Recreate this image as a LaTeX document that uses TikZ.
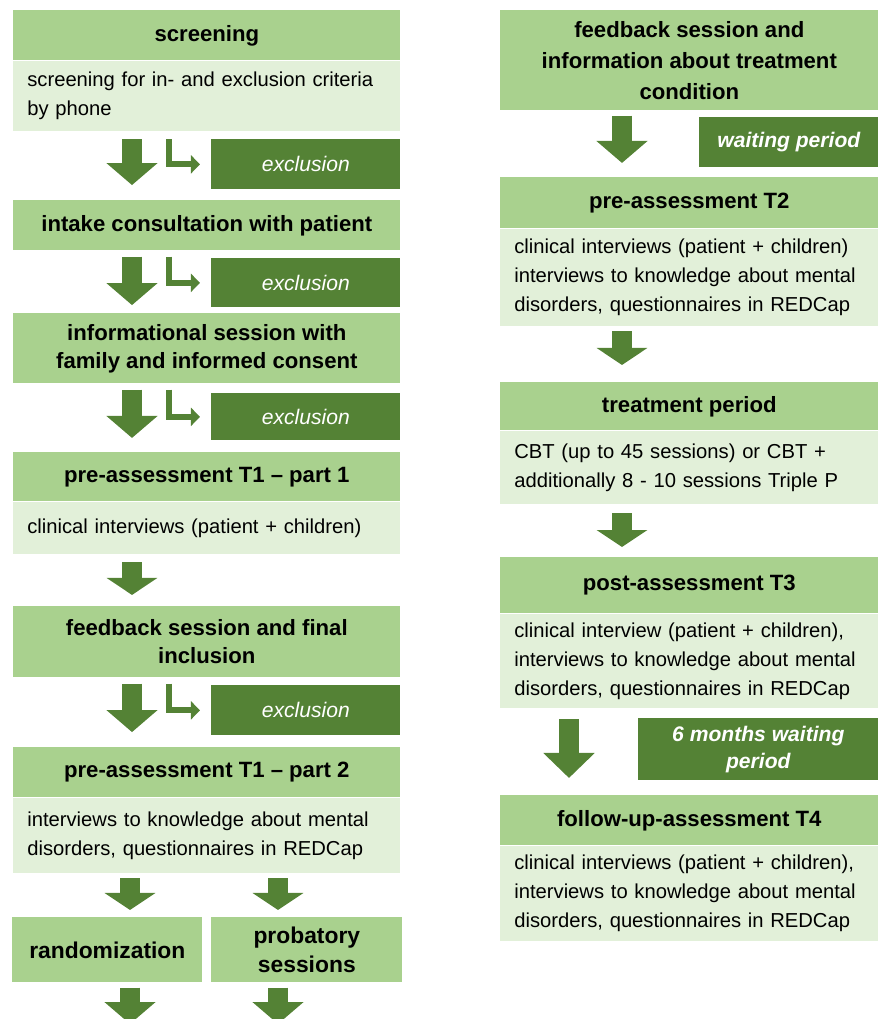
\documentclass[tikz,border=0pt]{standalone}
\usepackage{fontspec}
\setmainfont{Liberation Sans}
\usepackage{xcolor}
\usepackage{tikz}
\usetikzlibrary{arrows.meta,positioning}
\definecolor{kopfgruen}{HTML}{A9D18E}
\definecolor{blassgruen}{HTML}{E2F0D9}
\definecolor{dunkelgruen}{HTML}{548235}
\tikzset{
    kopf/.style={
        rectangle,
        fill=kopfgruen,
        anchor=north west,
        align=center,
        inner sep=2pt,
        font=\fontsize{12.6}{16}\selectfont\bfseries
    },
    links/.style={minimum width=7.74cm},
    rechts/.style={minimum width=7.56cm},
    inhalt/.style={
        rectangle,
        fill=blassgruen,
        align=left,
        text width=#1,
        inner xsep=0.28cm,
        inner ysep=2pt,
        font=\fontsize{11.5}{16.5}\selectfont
    },
    aus/.style={
        rectangle,
        fill=dunkelgruen,
        text=white,
        anchor=north west,
        align=center,
        inner sep=2pt,
        font=\fontsize{12}{15}\selectfont\itshape
    },
    warten/.style={aus, font=\fontsize{12}{15.4}\selectfont\bfseries\itshape},
    pfeil/.style={line width=0.4cm, draw=dunkelgruen, -{Triangle[width=1cm, length=#1]}},
    pfeil/.default=0.44cm,
    abzweig/.style={line width=0.12cm, draw=dunkelgruen, -{Triangle[width=0.36cm, length=0.18cm]}}
}

\begin{document}
\begin{tikzpicture}[x=0.02cm, y=-0.02cm]
    \clip (0,0) rectangle (878,1019);

    \coordinate (pL) at (132,0);
    \coordinate (kn) at (169,0);
    \coordinate (pA) at (130,0);
    \coordinate (pB) at (278,0);
    \coordinate (pR) at (622,0);
    \coordinate (pW) at (569,0);

    \node[kopf, links, minimum height=1cm] (scrK) at (13,10) {screening};
    \node[inhalt=7.18cm, minimum height=1.4cm, below=0pt of scrK] (scrB) {screening for in- and exclusion criteria\\by phone};
    \node[aus, minimum width=3.78cm, minimum height=1cm] (ex1) at (211,139) {exclusion};
    \node[kopf, links, minimum height=1cm] (intK) at (13,200) {intake consultation with patient};
    \node[aus, minimum width=3.78cm, minimum height=0.98cm] (ex2) at (211,258) {exclusion};
    \node[kopf, links, minimum height=1.4cm] (infK) at (13,313) {informational session with\\family and informed consent};
    \node[aus, minimum width=3.78cm, minimum height=0.94cm] (ex3) at (211,393) {exclusion};
    \node[kopf, links, minimum height=0.98cm] (t1aK) at (13,452) {pre-assessment T1 – part 1};
    \node[inhalt=7.18cm, minimum height=1.04cm, below=0pt of t1aK] (t1aB) {clinical interviews (patient + children)};
    \node[kopf, links, minimum height=1.42cm] (fbK) at (13,606) {feedback session and final\\inclusion};
    \node[aus, minimum width=3.78cm, minimum height=1cm] (ex4) at (211,685) {exclusion};
    \node[kopf, links, minimum height=1cm] (t1bK) at (13,747) {pre-assessment T1 – part 2};
    \node[inhalt=7.18cm, minimum height=1.5cm, below=0pt of t1bK] (t1bB) {interviews to knowledge about mental\\disorders, questionnaires in REDCap};
    \node[kopf, minimum width=3.8cm, minimum height=1.3cm, font=\fontsize{13}{16.5}\selectfont\bfseries] (rand) at (12,917) {randomization};
    \node[kopf, minimum width=3.82cm, minimum height=1.3cm, font=\fontsize{13}{16.5}\selectfont\bfseries] (prob) at (211,917) {probatory\\sessions};

    \node[kopf, rechts, minimum height=2cm, font=\fontsize{12.6}{17.6}\selectfont\bfseries] (fb2K) at (500,10) {feedback session and\\information about treatment\\condition};
    \node[warten, minimum width=3.58cm, minimum height=1cm] (wart) at (699,117) {waiting period};
    \node[kopf, rechts, minimum height=1.02cm] (t2K) at (500,177) {pre-assessment T2};
    \node[inhalt=7cm, minimum height=1.94cm, below=0pt of t2K] (t2B) {clinical interviews (patient + children)\\interviews to knowledge about mental\\disorders, questionnaires in REDCap};
    \node[kopf, rechts, minimum height=0.96cm] (trK) at (500,382) {treatment period};
    \node[inhalt=7cm, minimum height=1.46cm, below=0pt of trK] (trB) {CBT (up to 45 sessions) or CBT +\\additionally 8 - 10 sessions Triple P};
    \node[kopf, rechts, minimum height=1.12cm] (t3K) at (500,557) {post-assessment T3};
    \node[inhalt=7cm, minimum height=1.88cm, below=0pt of t3K] (t3B) {clinical interview (patient + children),\\interviews to knowledge about mental\\disorders, questionnaires in REDCap};
    \node[warten, minimum width=4.8cm, minimum height=1.24cm] (wart6) at (638,718) {6 months waiting\\period};
    \node[kopf, rechts, minimum height=1cm] (t4K) at (500,795) {follow-up-assessment T4};
    \node[inhalt=7cm, minimum height=1.9cm, below=0pt of t4K] (t4B) {clinical interviews (patient + children),\\interviews to knowledge about mental\\disorders, questionnaires in REDCap};

    \coordinate (endeA) at (130,1024);
    \coordinate (endeB) at (278,1024);

    \draw[pfeil, shorten <=4.5pt, shorten >=8.5pt] (scrB.south -| pL) -- (intK.north -| pL);
    \draw[pfeil, shorten <=3.4pt, shorten >=4.5pt] (intK.south -| pL) -- (infK.north -| pL);
    \draw[pfeil, shorten <=3.4pt, shorten >=8pt] (infK.south -| pL) -- (t1aK.north -| pL);
    \draw[pfeil=0.34cm, shorten <=4.5pt, shorten >=6.3pt] (t1aB.south -| pL) -- (fbK.north -| pL);
    \draw[pfeil, shorten <=3.4pt, shorten >=8.5pt] (fbK.south -| pL) -- (t1bK.north -| pL);
    \draw[pfeil=0.34cm, shorten <=2.8pt, shorten >=4pt] (t1bB.south -| pA) -- (rand.north -| pA);
    \draw[pfeil=0.34cm, shorten <=2.8pt, shorten >=4pt] (t1bB.south -| pB) -- (prob.north -| pB);
    \draw[pfeil, shorten <=2.8pt] (rand.south -| pA) -- (endeA);
    \draw[pfeil, shorten <=2.8pt] (prob.south -| pB) -- (endeB);

    \draw[abzweig, shorten <=4.5pt, shorten >=6.3pt] (scrB.south -| kn) |- (ex1.west);
    \draw[abzweig, shorten <=3.4pt, shorten >=6.3pt] (intK.south -| kn) |- (ex2.west);
    \draw[abzweig, shorten <=3.4pt, shorten >=6.3pt] (infK.south -| kn) |- (ex3.west);
    \draw[abzweig, shorten <=3.4pt, shorten >=6.3pt] (fbK.south -| kn) |- (ex4.west);

    \draw[pfeil, shorten <=2.8pt, shorten >=8pt] (fb2K.south -| pR) -- (t2K.north -| pR);
    \draw[pfeil=0.34cm, shorten <=2.8pt, shorten >=9.7pt] (t2B.south -| pR) -- (trK.north -| pR);
    \draw[pfeil=0.34cm, shorten <=5.1pt, shorten >=5.7pt] (trB.south -| pR) -- (t3K.north -| pR);
    \draw[pfeil=0.5cm, shorten <=6.3pt, shorten >=9.7pt] (t3B.south -| pW) -- (t4K.north -| pW);
\end{tikzpicture}
\end{document}
